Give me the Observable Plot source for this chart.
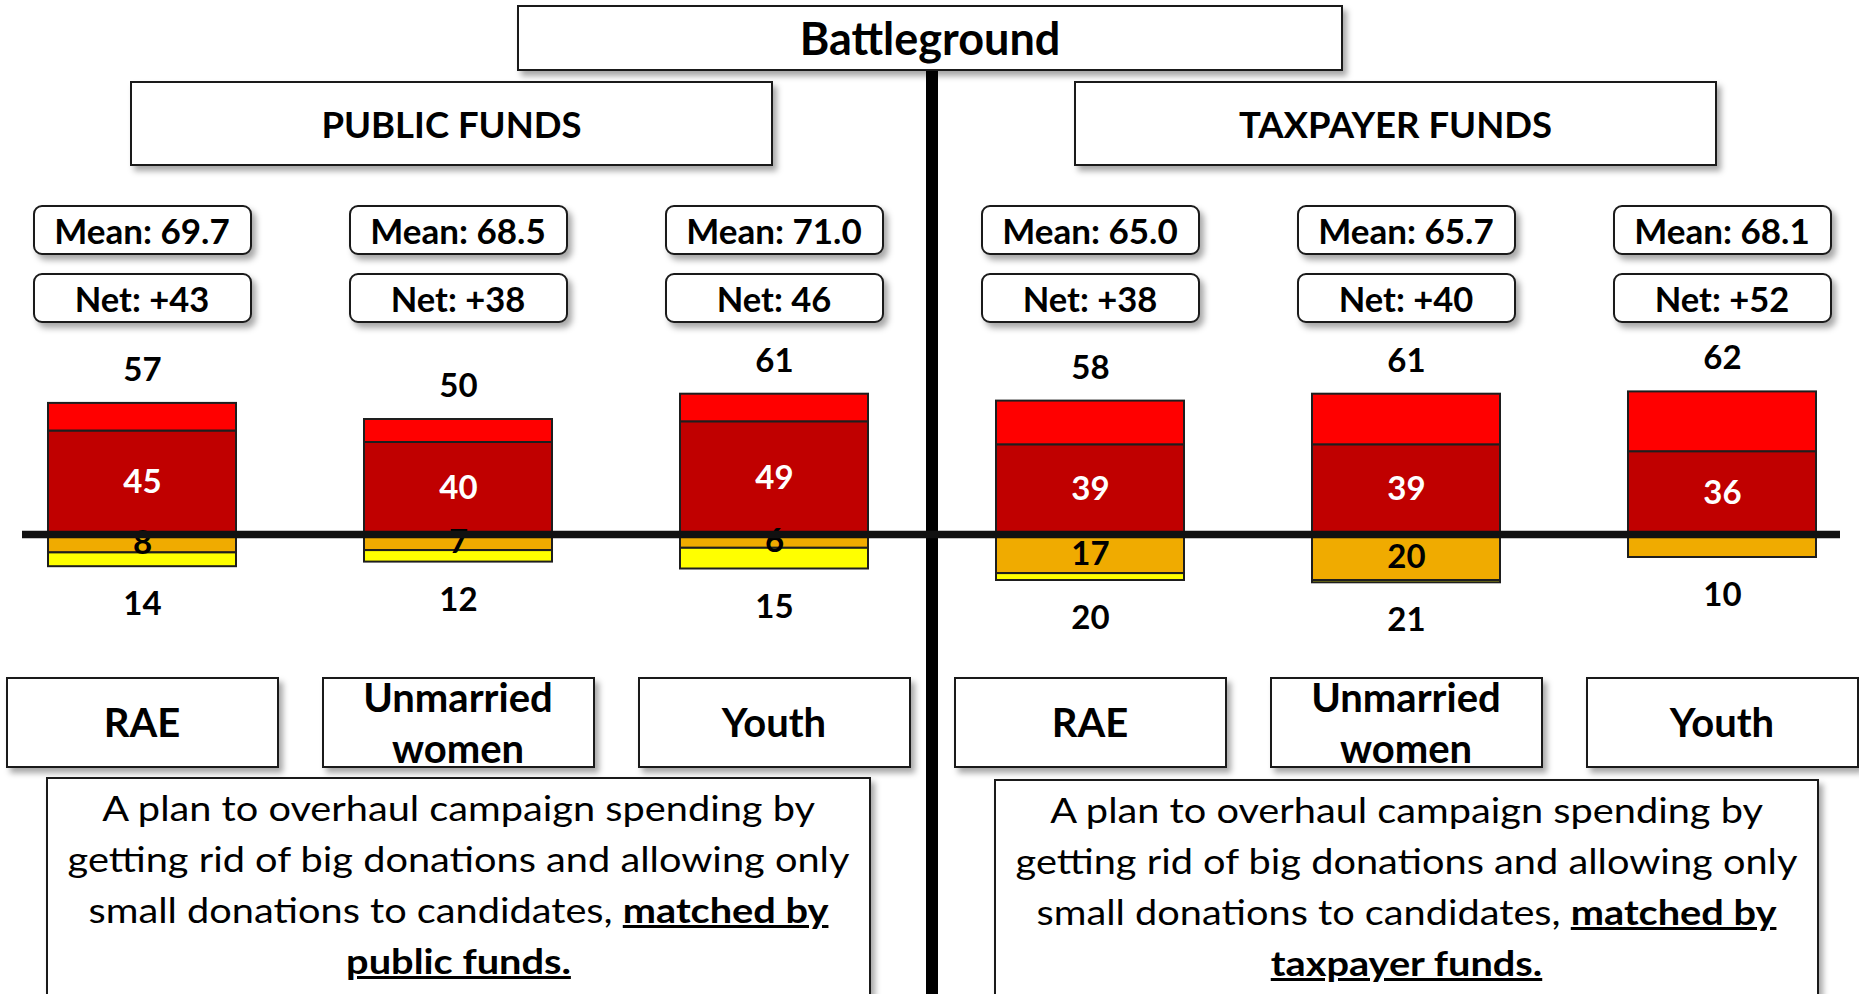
<!DOCTYPE html>
<html>
<head>
<meta charset="utf-8">
<script src="https://cdn.jsdelivr.net/npm/d3@7"></script>
<script src="https://cdn.jsdelivr.net/npm/@observablehq/plot@0.6"></script>
<style>
html, body { margin: 0; padding: 0; background: #fff; overflow: hidden; }
#wrap { position: relative; width: 1859px; height: 994px; overflow: hidden; font-family: Lato, "Open Sans", sans-serif; color: #000; }
#wrap svg { position: absolute; left: 0; top: 0; }
.box { position: absolute; box-sizing: border-box; border: 2px solid #1a1a1a; background: #fff;
       display: flex; align-items: center; justify-content: center; text-align: center;
       box-shadow: 4px 5px 6px rgba(0,0,0,0.35); }
.bold { font-weight: 700; }
.stat { border-radius: 9px; }
.desc { display: block; padding-top: 3px; line-height: 51px; font-weight: 400; }
.desc .inner { transform: scaleX(1.135); transform-origin: 50% 0; white-space: nowrap; }
.desc b { font-weight: 700; text-decoration: underline; }
.vline { position: absolute; background: #000; }
</style>
</head>
<body>
<div id="wrap"></div>
<script>
// ---- data ----
const title = "Battleground";
const panels = ["PUBLIC FUNDS", "TAXPAYER FUNDS"];
const groups = ["RAE", "Unmarried women", "Youth"];
const supportTotal  = [57, 50, 61, 58, 61, 62];
const supportStrong = [45, 40, 49, 39, 39, 36];
const opposeTotal   = [14, 12, 15, 20, 21, 10];
const opposeStrong  = [8, 7, 6, 17, 20, 10];
const meanLabels = ["Mean: 69.7", "Mean: 68.5", "Mean: 71.0", "Mean: 65.0", "Mean: 65.7", "Mean: 68.1"];
const netLabels  = ["Net: +43", "Net: +38", "Net: 46", "Net: +38", "Net: +40", "Net: +52"];
const descLines = [
  ["A plan to overhaul campaign spending by", "getting rid of big donations and allowing only", "small donations to candidates, ", "matched by", "public funds."],
  ["A plan to overhaul campaign spending by", "getting rid of big donations and allowing only", "small donations to candidates, ", "matched by", "taxpayer funds."]
];

// ---- build table ----
const keys = [];
panels.forEach(p => groups.forEach(g => keys.push(p + "|" + g)));
const rows = keys.map((k, i) => ({
  key: k, group: groups[i % 3],
  st: supportTotal[i], ss: supportStrong[i], ot: opposeTotal[i], os: opposeStrong[i]
}));
const segs = rows.flatMap(r => [
  {key: r.key, y1: 0, y2: r.ss, fill: "#C00000"},
  {key: r.key, y1: r.ss, y2: r.st, fill: "#FF0000"},
  {key: r.key, y1: 0, y2: -r.os, fill: "#F0AB00"},
  {key: r.key, y1: -r.os, y2: -r.ot, fill: "#FFFF00"}
]).filter(s => s.y1 !== s.y2);

const labelFont = 33;
const chart = Plot.plot({
  width: 1859, height: 994, margin: 0,
  style: {fontFamily: "Lato, 'Open Sans', sans-serif", background: "transparent", overflow: "visible"},
  x: {type: "band", domain: keys, range: [-18.4, 1882.4], paddingInner: 0.4066, paddingOuter: 0.2033, axis: null},
  y: {domain: [-100, 100], range: [764, 304], axis: null},
  color: {type: "identity"},
  marks: [
    Plot.barY(segs, {x: "key", y1: "y1", y2: "y2", fill: "fill", stroke: "#1e1e1e", strokeWidth: 2, ariaLabel: "bars"}),
    Plot.text(rows, {x: "key", y: "st", dy: -33, text: d => String(d.st), fontSize: labelFont, fontWeight: "bold", fill: "#000"}),
    Plot.text(rows, {x: "key", y: d => d.ss / 2, text: d => String(d.ss), fontSize: labelFont, fontWeight: "bold", fill: "#fff"}),
    Plot.text(rows.filter(d => d.os < d.ot), {x: "key", y: d => -d.os / 2, text: d => String(d.os), fontSize: labelFont, fontWeight: "bold", fill: "#000"}),
    Plot.text(rows, {x: "key", y: d => -d.ot, dy: 38, text: d => String(d.ot), fontSize: labelFont, fontWeight: "bold", fill: "#000"}),
    Plot.ruleY([0], {stroke: "#111", strokeWidth: 7.7, insetLeft: 22, insetRight: 19})
  ]
});

// drop shadow for bars
const svg = d3.select(chart);
const defs = svg.insert("defs", ":first-child");
const f = defs.append("filter").attr("id", "barShadow").attr("x", "-10%").attr("y", "-10%").attr("width", "130%").attr("height", "130%");
f.append("feDropShadow").attr("dx", 4).attr("dy", 5).attr("stdDeviation", 3).attr("flood-color", "#000").attr("flood-opacity", 0.35);
svg.select('g[aria-label="bars"]').attr("filter", "url(#barShadow)");

const wrap = document.getElementById("wrap");
const xs = chart.scale("x");
const bw = xs.bandwidth;
const cx = k => xs.apply(k) + bw / 2;

// vertical divider between panels (under boxes)
const divX = (cx(keys[2]) + cx(keys[3])) / 2;
const vline = document.createElement("div");
vline.className = "vline";
Object.assign(vline.style, {left: (divX - 5.8) + "px", top: "70px", width: "11.7px", height: "930px"});
wrap.appendChild(vline);
wrap.appendChild(chart);

function addBox(cls, text, left, top, w, h, fs, extra) {
  const d = document.createElement("div");
  d.className = "box " + cls;
  Object.assign(d.style, {left: left + "px", top: top + "px", width: w + "px", height: h + "px", fontSize: fs + "px"}, extra || {});
  if (text != null) d.textContent = text;
  wrap.appendChild(d);
  return d;
}

// title
addBox("bold", title, 517, 5, 826, 66, 45);
// panel headers
addBox("bold", panels[0], 130, 81, 643, 85, 36.5);
addBox("bold", panels[1], 1074, 81, 643, 85, 36.5);

// mean / net / category boxes positioned by the x scale
rows.forEach((r, i) => {
  const c = cx(r.key);
  addBox("bold stat", meanLabels[i], c - 109.5, 205, 219, 50, 35);
  addBox("bold stat", netLabels[i], c - 109.5, 273, 219, 50, 34.5);
  addBox("bold", r.group, c - 136.5, 677, 273, 91, 40, {lineHeight: "51px", padding: "0 8px"});
});

// descriptions
const descCenters = [(cx(keys[0]) + cx(keys[2])) / 2, (cx(keys[3]) + cx(keys[5])) / 2];
descLines.forEach((lines, p) => {
  const d = addBox("desc", null, descCenters[p] - 412.5, 777 + p * 2, 825, 240, 35);
  const inner = document.createElement("div"); inner.className = "inner"; d.appendChild(inner);
  const l1 = document.createElement("div"); l1.textContent = lines[0]; inner.appendChild(l1);
  const l2 = document.createElement("div"); l2.textContent = lines[1]; inner.appendChild(l2);
  const l3 = document.createElement("div"); l3.appendChild(document.createTextNode(lines[2]));
  const b1 = document.createElement("b"); b1.textContent = lines[3]; l3.appendChild(b1); inner.appendChild(l3);
  const l4 = document.createElement("div"); const b2 = document.createElement("b"); b2.textContent = lines[4]; l4.appendChild(b2); inner.appendChild(l4);
});
</script>
</body>
</html>
